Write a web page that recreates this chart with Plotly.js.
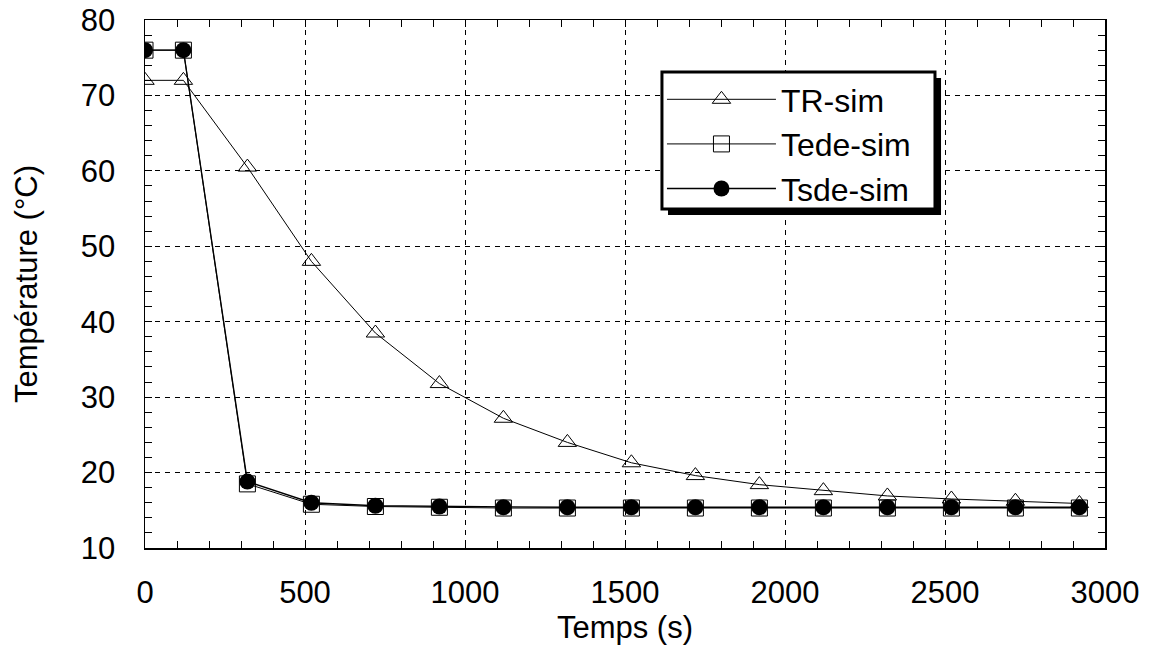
<!DOCTYPE html>
<html>
<head>
<meta charset="utf-8">
<script src="https://cdn.plot.ly/plotly-3.0.1.min.js"></script>
<style>html,body{margin:0;padding:0;background:#fff;}#chart{width:1150px;height:645px;}</style>
</head>
<body>
<div id="chart"></div>
<script>
const timeS = [0, 120, 320, 520, 720, 920, 1120, 1320, 1520, 1720, 1920, 2120, 2320, 2520, 2720, 2920];
const trSim = [72, 72, 60.5, 48, 38.5, 31.8, 27.2, 24, 21.3, 19.6, 18.4, 17.6, 16.9, 16.5, 16.2, 15.9];
const tedeSim = [76, 76, 18.5, 15.8, 15.5, 15.4, 15.3, 15.3, 15.3, 15.3, 15.3, 15.3, 15.3, 15.3, 15.3, 15.3];
const tsdeSim = [76, 76, 18.8, 16.0, 15.6, 15.5, 15.4, 15.4, 15.4, 15.4, 15.4, 15.4, 15.4, 15.4, 15.4, 15.4];
const xTicks = [0, 500, 1000, 1500, 2000, 2500, 3000];
const yTicks = [10, 20, 30, 40, 50, 60, 70, 80];

const fam = 'Liberation Sans, Arial, sans-serif';
const f = (s) => ({family: fam, size: s, color: '#000'});

const traces = [
  {x: timeS, y: trSim, name: 'TR-sim', mode: 'lines+markers',
   line: {color: '#000', width: 1},
   marker: {symbol: 'triangle-up-open', size: 16, color: '#000', line: {width: 1}}},
  {x: timeS, y: tedeSim, name: 'Tede-sim', mode: 'lines+markers',
   line: {color: '#000', width: 1},
   marker: {symbol: 'square-open', size: 16, color: '#000', line: {width: 1}}},
  {x: timeS, y: tsdeSim, name: 'Tsde-sim', mode: 'lines+markers',
   line: {color: '#000', width: 1.3},
   marker: {symbol: 'circle', size: 16, color: '#000'}}
];

const layout = {
  width: 1150, height: 645,
  margin: {l: 145, r: 45, t: 20, b: 97},
  paper_bgcolor: '#fff', plot_bgcolor: '#fff',
  font: f(31),
  showlegend: true,
  legend: {
    x: 0.5385, y: 0.9015, xanchor: 'left', yanchor: 'top',
    bgcolor: 'rgba(0,0,0,0)', borderwidth: 0,
    font: f(32),
    itemwidth: 109
  },
  xaxis: {
    range: [0, 3000], tickvals: xTicks, ticktext: xTicks.map(String),
    showline: true, linecolor: '#000', linewidth: 1.5, mirror: 'allticks',
    ticks: 'inside', ticklen: 7, tickcolor: '#000',
    showgrid: true, gridcolor: '#000', griddash: '5px,5px', gridwidth: 1,
    zeroline: false, ticklabelstandoff: 16,
    minor: {dtick: 100, ticks: 'inside', ticklen: 7, tickcolor: '#000', showgrid: false},
    title: {text: 'Temps (s)', font: f(31), standoff: 0},
    tickfont: f(31)
  },
  yaxis: {
    range: [10, 80], tickvals: yTicks, ticktext: yTicks.map(String),
    showline: true, linecolor: '#000', linewidth: 1.5, mirror: 'allticks',
    ticks: 'inside', ticklen: 7, tickcolor: '#000',
    showgrid: true, gridcolor: '#000', griddash: '5px,5px', gridwidth: 1,
    zeroline: false, ticklabelstandoff: 22,
    minor: {dtick: 2, ticks: 'inside', ticklen: 7, tickcolor: '#000', showgrid: false},
    title: {text: 'Température (°C)', font: f(31), standoff: 34},
    tickfont: f(31)
  },
  shapes: [
    {type: 'rect', xref: 'paper', yref: 'paper', layer: 'above',
     x0: 0.5448, x1: 0.8292, y0: 0.6307, y1: 0.8902,
     fillcolor: '#000', line: {width: 0}},
    {type: 'rect', xref: 'paper', yref: 'paper', layer: 'above',
     x0: 0.5385, x1: 0.8229, y0: 0.642, y1: 0.9015,
     fillcolor: '#fff', line: {color: '#000', width: 3}}
  ]
};

Plotly.newPlot('chart', traces, layout, {displayModeBar: false, staticPlot: true});
</script>
</body>
</html>
